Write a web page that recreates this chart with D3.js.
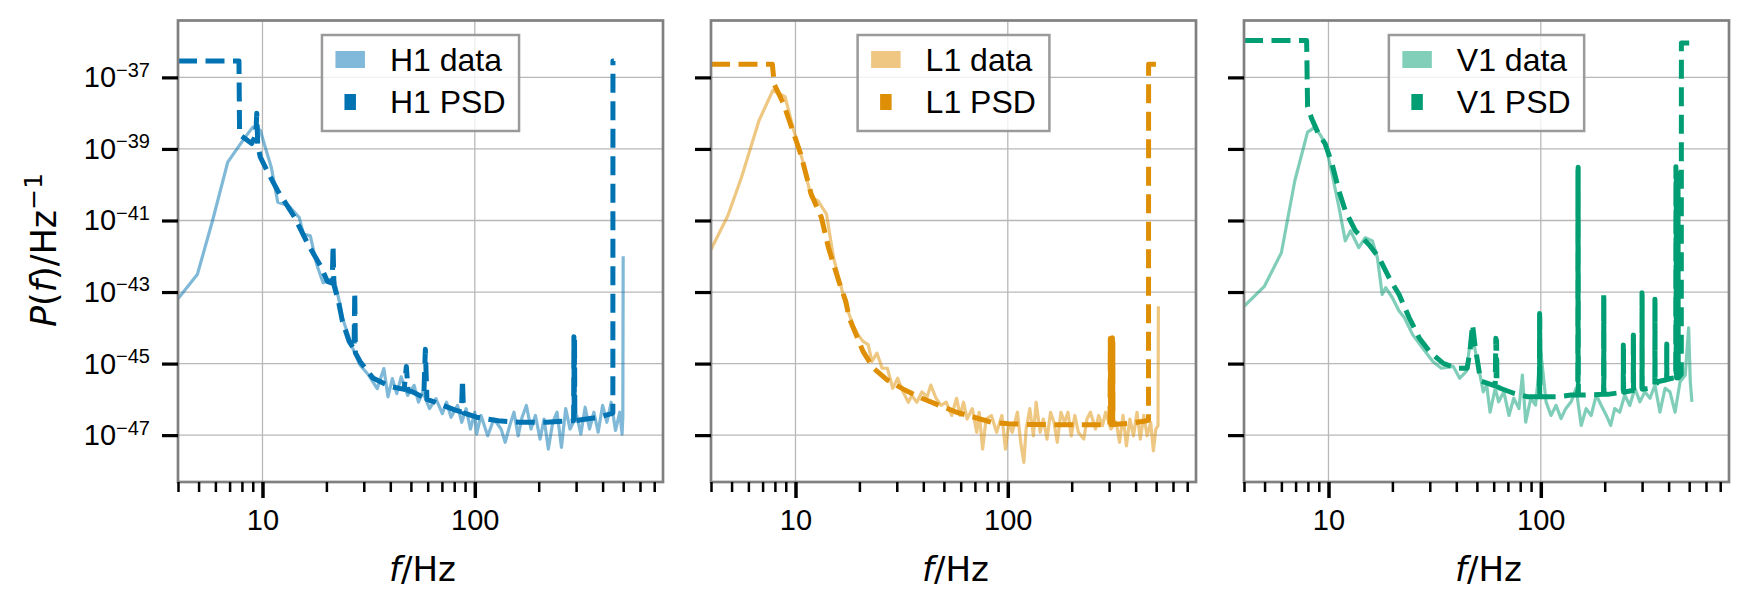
<!DOCTYPE html>
<html>
<head>
<meta charset="utf-8">
<script src="https://cdn.jsdelivr.net/npm/d3@7"></script>
<style>
  body { margin: 0; background: #fff; }
  text { font-family: "Liberation Sans", Arial, sans-serif; }
</style>
</head>
<body>
<svg width="1747" height="608"></svg>
<script>
// values: [frequency in Hz, log10 of P(f)]
const h1Data = [[4,-43.19],[4.94,-42.5],[5.82,-41.0],[6.86,-39.37],[8.09,-38.76],[9.0,-38.39],[9.77,-38.48],[10.3,-38.95],[11.0,-39.51],[11.8,-40.49],[13.3,-40.59],[14.9,-40.92],[15.6,-41.38],[16.8,-41.43],[18.0,-42.23],[19.3,-42.74],[21.7,-42.6],[23.0,-43.26],[23.8,-43.72],[26.2,-44.48],[28.8,-45.04],[31.6,-45.32],[34.7,-45.7],[37.3,-45.14],[39.0,-45.93],[40.9,-45.42],[42.9,-45.84],[45.0,-45.37],[48.3,-45.89],[51.8,-45.61],[54.3,-46.08],[56.9,-45.79],[61.2,-46.26],[65.6,-45.98],[70.3,-46.4],[73.6,-46.08],[77.3,-46.5],[82.9,-46.17],[86.8,-46.64],[91.0,-46.26],[95.4,-46.83],[100,-46.36],[102,-46.97],[107,-46.45],[115,-47.02],[123,-46.55],[133,-46.83],[139,-47.2],[146,-46.74],[153,-46.36],[160,-47.02],[167,-46.5],[175,-46.17],[184,-46.83],[193,-46.45],[203,-47.11],[212,-46.55],[222,-47.39],[233,-46.64],[244,-46.36],[256,-47.34],[268,-46.26],[281,-46.83],[302,-46.45],[316,-46.97],[331,-46.22],[347,-46.83],[364,-46.36],[381,-46.92],[400,-46.17],[419,-46.64],[439,-46.08],[460,-46.87],[482,-46.36],[494,-46.97],[498,-46.5],[500,-42.0]];
const h1Psd = [[4,-36.54],[7.75,-36.54],[7.8,-38.6],[8.9,-38.85],[9.3,-38.6],[9.4,-38.0],[9.5,-38.9],[9.77,-39.23],[10.7,-39.7],[11.8,-40.17],[14.2,-40.92],[16.4,-41.67],[18.9,-42.3],[20.2,-42.7],[21.3,-42.75],[21.5,-41.7],[21.7,-42.8],[22.8,-43.26],[23.8,-43.82],[25.6,-44.38],[27.0,-44.6],[27.2,-43.0],[27.4,-44.7],[28.8,-44.94],[33.1,-45.4],[40,-45.64],[46.5,-45.72],[47.6,-45.08],[48.5,-45.76],[50.5,-45.78],[57.5,-45.95],[58.5,-44.6],[59.5,-46.0],[63.8,-46.06],[80.9,-46.3],[86.5,-46.35],[87.5,-45.45],[88.5,-46.38],[102,-46.5],[129,-46.6],[163,-46.64],[217,-46.64],[286,-46.6],[292,-46.6],[293,-44.25],[294,-46.5],[295,-44.3],[296,-46.6],[381,-46.5],[440,-46.4],[447,-46.38],[447.5,-36.54],[452,-36.54]];

const l1Data = [[4,-41.81],[4.8,-40.87],[5.57,-39.79],[6.74,-38.2],[7.83,-37.36],[8.93,-37.54],[9.81,-38.48],[10.8,-39.32],[11.85,-40.35],[12.77,-40.45],[14.0,-40.82],[15.1,-42.04],[16.3,-42.79],[17.25,-43.35],[18.6,-43.91],[19.7,-44.19],[20.8,-44.38],[22.0,-44.47],[22.9,-44.94],[24.2,-44.71],[25.6,-45.13],[27.1,-45.13],[28.7,-45.69],[30.3,-45.41],[32.1,-45.79],[34.0,-46.08],[35.3,-45.89],[37.3,-46.08],[39.4,-45.79],[41.7,-45.93],[43.4,-45.6],[45.9,-45.97],[48.5,-46.17],[51.3,-46.08],[54.4,-46.45],[57.4,-45.97],[59.6,-46.45],[61.9,-46.08],[64.3,-46.55],[68.0,-46.26],[71.4,-46.92],[73.3,-46.36],[76.1,-47.39],[79.0,-46.55],[83.7,-46.45],[88.6,-46.92],[93.8,-46.45],[97.5,-47.39],[101,-46.68],[105,-46.92],[111,-46.36],[115,-47.2],[119,-47.76],[122,-46.83],[127,-46.26],[132,-47.02],[136,-46.08],[142,-46.92],[147,-46.55],[153,-47.11],[159,-46.36],[165,-46.64],[171,-47.2],[178,-46.36],[185,-46.64],[192,-46.36],[199,-47.02],[207,-46.45],[215,-46.92],[228,-47.11],[236,-46.55],[245,-46.36],[259,-46.83],[268,-46.45],[279,-46.74],[289,-46.36],[306,-46.83],[324,-46.64],[336,-47.2],[349,-46.45],[362,-47.3],[376,-46.55],[391,-47.02],[406,-46.36],[421,-47.11],[437,-46.45],[453,-47.02],[471,-46.64],[485,-47.44],[498,-46.83],[510,-46.74],[512,-43.4]];
const l1Psd = [[4,-36.63],[7.78,-36.63],[7.95,-37.2],[8.77,-37.73],[9.81,-38.57],[10.58,-39.14],[11.85,-40.26],[13.25,-40.92],[14.3,-41.76],[16.0,-42.7],[17.25,-43.26],[17.9,-43.72],[19.3,-44.19],[20.8,-44.66],[23.3,-45.13],[27.1,-45.46],[32.8,-45.74],[39.4,-45.97],[47.6,-46.17],[57.4,-46.36],[69.4,-46.5],[83.7,-46.64],[101,-46.68],[122,-46.7],[178,-46.71],[259,-46.71],[303,-46.7],[304,-44.3],[305,-46.6],[306,-44.35],[307,-46.7],[310,-46.7],[311,-44.28],[312,-46.6],[312.5,-44.4],[313,-46.7],[375,-46.67],[452,-46.6],[460,-46.58],[460.5,-36.63],[510,-36.63]];

const v1Data = [[4,-43.4],[4.99,-42.84],[6.0,-41.9],[6.94,-39.89],[7.97,-38.53],[8.64,-38.39],[9.29,-38.67],[9.82,-39.04],[10.4,-39.7],[11.2,-40.63],[12.0,-41.57],[12.7,-41.29],[13.9,-41.76],[14.9,-41.48],[16.1,-41.57],[17.0,-42.04],[17.9,-43.07],[18.6,-42.88],[20.0,-43.16],[21.5,-43.53],[22.8,-43.72],[24.9,-44.19],[27.8,-44.57],[31.0,-44.94],[34.0,-45.13],[38.7,-45.08],[41.5,-45.41],[44.6,-45.22],[47.2,-44.1],[49.9,-44.85],[53.6,-45.79],[55.6,-45.6],[57.7,-46.36],[61.0,-45.69],[63.3,-46.07],[67.0,-45.79],[70.8,-46.45],[74.6,-45.97],[78.9,-46.26],[81.9,-45.32],[84.9,-46.64],[89.7,-45.97],[94.5,-46.16],[100,-44.66],[105.9,-46.07],[111.7,-46.45],[118,-46.17],[124.6,-46.54],[131,-46.26],[139,-46.07],[146.6,-45.69],[155,-46.73],[163.5,-46.26],[172.7,-46.45],[182.5,-45.88],[192.7,-46.17],[203.6,-46.45],[213.5,-46.73],[222.9,-46.26],[235.4,-46.36],[248.6,-45.88],[262.6,-46.17],[277.4,-45.69],[293,-46.07],[309,-45.79],[327,-45.97],[345,-45.6],[364,-46.36],[385,-45.69],[406,-45.79],[429,-46.36],[453,-45.51],[479,-45.32],[497,-44.0],[506,-45.51],[515,-46.07]];
const v1Psd = [[4,-35.97],[7.89,-35.97],[7.97,-37.82],[8.33,-38.15],[8.96,-38.57],[9.64,-38.85],[10.4,-39.42],[11.2,-40.17],[12.0,-40.73],[13.4,-41.29],[15.5,-41.67],[17.3,-42.04],[19.3,-42.6],[21.5,-43.07],[24.0,-43.72],[26.8,-44.29],[29.9,-44.66],[34.6,-44.99],[40.0,-45.13],[45.0,-45.13],[46.5,-44.6],[47.7,-43.91],[49.0,-44.5],[51.8,-45.4],[52.7,-45.5],[61.0,-45.62],[61.4,-44.29],[61.7,-45.5],[61.9,-44.35],[62.2,-45.64],[64.4,-45.69],[74.6,-45.83],[86.6,-45.93],[98.5,-45.93],[98.7,-43.6],[98.8,-45.8],[98.9,-43.7],[99.2,-45.93],[103.9,-45.93],[120,-45.93],[139,-45.88],[149.3,-45.88],[149.6,-39.6],[149.8,-45.5],[150.0,-39.51],[150.3,-45.88],[160,-45.88],[197.5,-45.86],[197.8,-43.07],[198,-45.7],[198.2,-43.15],[198.5,-45.86],[207,-45.86],[244.5,-45.8],[244.8,-44.48],[245,-45.7],[245.2,-44.55],[245.5,-45.8],[272.5,-45.75],[272.8,-44.1],[273,-45.6],[273.2,-44.2],[273.5,-45.75],[299.5,-45.72],[299.8,-43.02],[300,-45.6],[300.2,-43.1],[300.5,-45.72],[322,-45.69],[344.5,-45.6],[344.8,-43.2],[345,-45.5],[345.2,-43.3],[345.5,-45.6],[358,-45.5],[391.5,-45.45],[391.8,-44.38],[392,-45.3],[392.2,-44.45],[392.5,-45.45],[415,-45.41],[432,-45.4],[433,-39.5],[434,-45.3],[435,-39.8],[436,-45.4],[440,-39.6],[442,-45.3],[443,-39.7],[444,-45.4],[459,-45.3],[459.5,-36.04],[500,-36.04]];

const detectors = ["H1", "L1", "V1"];
const colors = ["#0173b2", "#de8f05", "#029e73"];
const dataSeries = [h1Data, l1Data, v1Data];
const psdSeries = [h1Psd, l1Psd, v1Psd];

const fDomain = [4, 770];
const pExpDomain = [-48.31, -35.41];
const yTickExps = [-47, -45, -43, -41, -39, -37];
const xMajor = [10, 100];
const xMinor = [4, 5, 6, 7, 8, 9, 20, 30, 40, 50, 60, 70, 80, 90, 200, 300, 400, 500, 600, 700];

let svg = d3.select("svg");
let plotLeft = 178, panelW = 485, gap = 48;
let plotTop = 20.5, plotBottom = 482;

let y = d3.scaleLog().domain(pExpDomain.map(e => 10 ** e)).range([plotBottom, plotTop]);

// lighten a colour the way alpha 0.5 on white does
let half = c => d3.interpolateRgb(c, "#fff")(0.5);

detectors.forEach((name, i) => {
  let x0 = plotLeft + i * (panelW + gap), x1 = x0 + panelW;
  let x = d3.scaleLog().domain(fDomain).range([x0, x1]);
  let g = svg.append("g");

  g.append("clipPath").attr("id", "clip" + i)
    .append("rect").attr("x", x0).attr("y", plotTop).attr("width", panelW).attr("height", plotBottom - plotTop);

  // grid
  g.selectAll(".gx").data(xMajor).enter().append("line")
    .attr("x1", d => x(d)).attr("x2", d => x(d)).attr("y1", plotTop).attr("y2", plotBottom)
    .attr("stroke", "#b8b8b8").attr("stroke-width", 1.3);
  g.selectAll(".gy").data(yTickExps).enter().append("line")
    .attr("x1", x0).attr("x2", x1).attr("y1", d => y(10 ** d)).attr("y2", d => y(10 ** d))
    .attr("stroke", "#b8b8b8").attr("stroke-width", 1.3);

  let line = d3.line().x(d => x(d[0])).y(d => y(10 ** d[1]));
  let plot = g.append("g").attr("clip-path", `url(#clip${i})`);
  plot.append("path").datum(dataSeries[i])
    .attr("d", line).attr("fill", "none")
    .attr("stroke", colors[i]).attr("stroke-opacity", 0.5)
    .attr("stroke-width", 3.2).attr("stroke-linejoin", "round");
  plot.append("path").datum(psdSeries[i])
    .attr("d", line).attr("fill", "none")
    .attr("stroke", colors[i]).attr("stroke-width", 5)
    .attr("stroke-dasharray", "19,8.5").attr("stroke-linejoin", "round");

  // frame
  g.append("rect").attr("x", x0).attr("y", plotTop).attr("width", panelW).attr("height", plotBottom - plotTop)
    .attr("fill", "none").attr("stroke", "#808080").attr("stroke-width", 2.7);

  // x ticks
  g.append("g").attr("transform", `translate(0,${plotBottom})`)
    .call(d3.axisBottom(x).tickValues(xMinor).tickSize(10).tickFormat(""))
    .call(a => a.select(".domain").remove())
    .selectAll("line").attr("stroke", "#000").attr("stroke-width", 2.5);
  let xa = g.append("g").attr("transform", `translate(0,${plotBottom})`)
    .call(d3.axisBottom(x).tickValues(xMajor).tickSize(16).tickFormat(d3.format("d")));
  xa.select(".domain").remove();
  xa.selectAll("line").attr("stroke", "#000").attr("stroke-width", 3.5);
  xa.selectAll("text").attr("fill", "#000").attr("font-size", 29)
    .attr("font-family", "Liberation Sans, Arial, sans-serif").attr("dy", null).attr("y", 48);

  // y ticks
  let ya = g.append("g").attr("transform", `translate(${x0},0)`)
    .call(d3.axisLeft(y).tickValues(yTickExps.map(e => 10 ** e)).tickSize(16).tickFormat(""));
  ya.select(".domain").remove();
  ya.selectAll("line").attr("stroke", "#000").attr("stroke-width", 3.2);
  if (i === 0) {
    yTickExps.forEach(e => {
      let t = g.append("text").attr("x", x0 - 28).attr("y", y(10 ** e) + 10)
        .attr("text-anchor", "end").attr("font-size", 29).attr("fill", "#000");
      t.append("tspan").text("10");
      t.append("tspan").attr("font-size", 20).attr("dy", -10.6).text("\u2212" + (-e));
    });
  }

  // x label
  let xl = g.append("text").attr("x", (x0 + x1) / 2 + 2).attr("y", 581)
    .attr("text-anchor", "middle").attr("font-size", 34)
    .style("font-family", "DejaVu Sans, sans-serif");
  xl.append("tspan").attr("font-style", "italic").text("f");
  xl.append("tspan").text("/Hz");

  // legend
  let lg = g.append("g");
  let box = lg.append("rect").attr("y", 35).attr("height", 96)
    .attr("fill", "#fff").attr("fill-opacity", 0.8)
    .attr("stroke", "#9a9a9a").attr("stroke-width", 2.5);
  let t1 = lg.append("text").attr("y", 71).attr("font-size", 32).text(name + " data");
  let t2 = lg.append("text").attr("y", 112.7).attr("font-size", 32).text(name + " PSD");
  let tw = Math.max(t1.node().getComputedTextLength(), t2.node().getComputedTextLength());
  let bw = 13.5 + 29.5 + 25 + tw + 13.5;
  let bx = (x0 + x1) / 2 - bw / 2;
  box.attr("x", bx).attr("width", bw);
  lg.append("rect").attr("x", bx + 13.5).attr("y", 51).attr("width", 29.5).attr("height", 17)
    .attr("fill", half(colors[i]));
  lg.append("rect").attr("x", bx + 22.5).attr("y", 94).attr("width", 11.5).attr("height", 16)
    .attr("fill", colors[i]);
  t1.attr("x", bx + 68);
  t2.attr("x", bx + 68);
});

// y label
let yl = svg.append("text").attr("transform", "translate(56,250) rotate(-90)")
  .attr("text-anchor", "middle").attr("font-size", 35)
  .style("font-family", "DejaVu Sans, sans-serif");
yl.append("tspan").attr("font-style", "italic").text("P");
yl.append("tspan").text("(");
yl.append("tspan").attr("font-style", "italic").text("f");
yl.append("tspan").text(")/Hz");
yl.append("tspan").attr("font-size", 25).attr("dy", -14).text("\u22121");
</script>
</body>
</html>
